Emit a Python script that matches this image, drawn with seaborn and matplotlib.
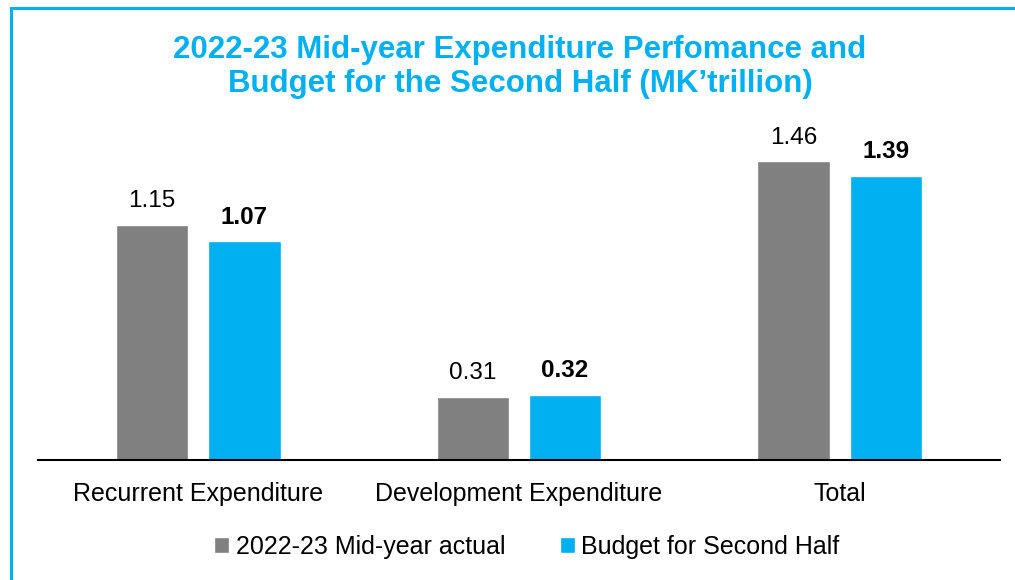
import matplotlib
matplotlib.use("Agg")
import matplotlib.pyplot as plt
import seaborn as sns
import pandas as pd
from matplotlib.patches import Rectangle

categories = ["Recurrent Expenditure", "Development Expenditure", "Total"]
series_names = ["2022-23 Mid-year actual", "Budget for Second Half"]
actual = [1.15, 0.31, 1.46]
budget = [1.07, 0.32, 1.39]
colors = ["#808080", "#00B0F0"]
title = "2022-23 Mid-year Expenditure Perfomance and\nBudget for the Second Half (MK\u2019trillion)"

df = pd.DataFrame({
    "category": categories * 2,
    "series": [series_names[0]] * 3 + [series_names[1]] * 3,
    "value": actual + budget,
})

sns.set_theme(style="white")
plt.rcParams["font.family"] = ["Liberation Sans", "DejaVu Sans"]

W, H = 1015, 580
fig = plt.figure(figsize=(W / 100, H / 100), dpi=100)
ax = fig.add_axes([38 / W, (H - 460) / H, 962 / W, 340 / H])

sns.barplot(data=df, x="category", y="value", hue="series", palette=colors,
            width=0.575, gap=0.217, ax=ax, saturation=1, legend=True)

ax.set_xlim(-0.5, 2.5)
ax.set_ylim(0, 340 / 204.6)
ax.set_xlabel("")
ax.set_ylabel("")
ax.set_yticks([])
for s in ["top", "right", "left"]:
    ax.spines[s].set_visible(False)
ax.spines["bottom"].set_color("black")
ax.spines["bottom"].set_linewidth(1.5)
ax.tick_params(axis="x", length=0, labelsize=18, pad=16, colors="black")

ax.bar_label(ax.containers[0], fmt="%.2f", fontsize=17.5, padding=9, color="black")
ax.bar_label(ax.containers[1], fmt="%.2f", fontsize=17.5, padding=9, color="black",
             fontweight="bold")

handles, labels = ax.get_legend_handles_labels()
ax.legend_.remove()
fig.legend(handles, labels, loc="center", bbox_to_anchor=(527 / W, 1 - 547 / H),
           ncol=2, frameon=False, fontsize=18, handlelength=0.6, handleheight=0.6,
           handletextpad=0.25, columnspacing=2.2, labelcolor="black")

fig.text(520 / W, 1 - 67 / H, title, ha="center", va="center", fontsize=22.5,
         fontweight="bold", color="#00B0F0", linespacing=1.2)

fig.patches.append(Rectangle((10.5 / W, -0.05), 1.1, (H - 7.5) / H + 0.05,
                             transform=fig.transFigure, fill=False,
                             edgecolor="#00B0F0", linewidth=2.2))

fig.savefig("out.png", dpi=100)
